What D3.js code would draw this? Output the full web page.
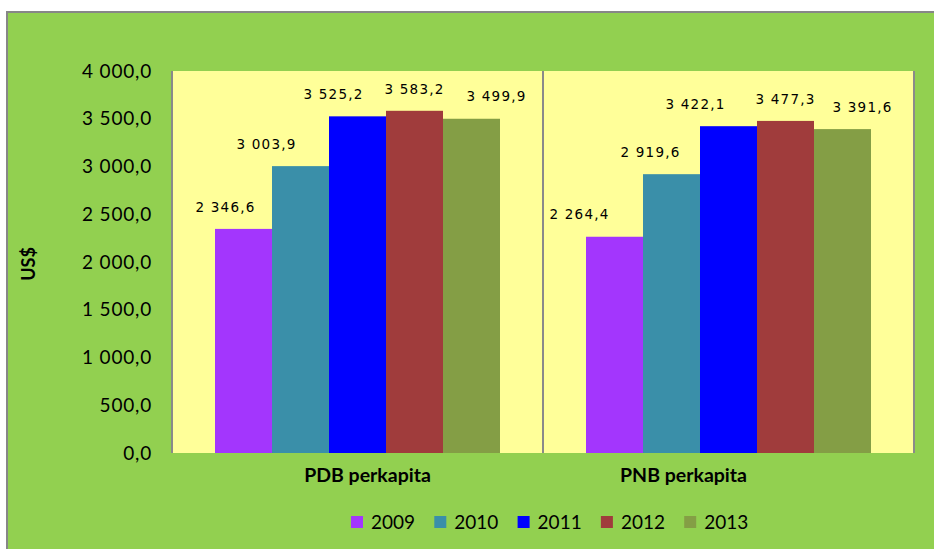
<!DOCTYPE html>
<html>
<head>
    <style>
        body { margin: 0; background: #fff; }
        svg text { font-family: Lato, "Open Sans", sans-serif; fill: #000; }
        .tick-label { font-size: 19px; letter-spacing: 0.8px; }
        .bar-label { font-family: "DejaVu Sans", sans-serif; font-size: 13.5px; letter-spacing: 1.2px; }
        .cat-label { font-size: 19.5px; font-weight: bold; }
        .legend text { font-size: 19px; }
    </style>
    <script src="https://d3js.org/d3.v7.min.js"></script>
</head>
<body>
    <svg width="934" height="549"></svg>
    <script>

        var categories = ["PDB perkapita", "PNB perkapita"];
        var years = ["2009", "2010", "2011", "2012", "2013"];
        var pdb = [2346.6, 3003.9, 3525.2, 3583.2, 3499.9];
        var pnb = [2264.4, 2919.6, 3422.1, 3477.3, 3391.6];
        var yTicks = [0, 500, 1000, 1500, 2000, 2500, 3000, 3500, 4000];

        var colors = ["#a336fd", "#3a8fa9", "#0000ff", "#a03c3c", "#849e45"];
        // labels were nudged by hand in the original
        var labelDx = [[-18, -34, -24, 0, 25], [-35, -21, -33, 0, 20]];
        var catDx = [10, -45];

        var svg = d3.select("svg");

        var plotLeft = 172, plotRight = 914, plotTop = 71, plotBottom = 453;

        svg.append("rect")
           .attr("x", 7).attr("y", 12)
           .attr("width", 940).attr("height", 550)
           .attr("fill", "#92d050")
           .attr("stroke", "#878787")
           .attr("stroke-width", 2);

        svg.append("rect")
           .attr("x", plotLeft).attr("y", plotTop)
           .attr("width", plotRight - plotLeft).attr("height", plotBottom - plotTop)
           .attr("fill", "#ffff99");

        var x0 = d3.scaleBand().domain(categories).range([plotLeft, plotRight]);
        var x1 = d3.scaleBand().domain(years).range([43, x0.bandwidth() - 43]);
        var y = d3.scaleLinear().domain([0, 4000]).range([plotBottom, plotTop]);

        var fmt = function(v) {
            return d3.format(",.1f")(v).replace(".", "#").replace(/,/g, " ").replace("#", ",");
        };

        // vertical separators at category edges
        svg.selectAll(".sep")
           .data([plotLeft, plotLeft + x0.bandwidth(), plotRight])
           .enter().append("line")
           .attr("x1", function(d) { return d; })
           .attr("x2", function(d) { return d; })
           .attr("y1", plotTop).attr("y2", plotBottom)
           .attr("stroke", "#8a8a8a")
           .attr("stroke-width", 2);

        svg.append("g")
           .selectAll("text")
           .data(yTicks)
           .enter().append("text")
           .attr("class", "tick-label")
           .attr("x", 152)
           .attr("y", function(d) { return y(d); })
           .attr("dy", "0.35em")
           .attr("text-anchor", "end")
           .text(fmt);

        var series = [pdb, pnb];
        var groups = svg.selectAll(".grp")
           .data(categories)
           .enter().append("g")
           .attr("class", "grp")
           .attr("transform", function(d) { return "translate(" + x0(d) + ",0)"; });

        groups.each(function(c, ci) {
            var g = d3.select(this);
            var vals = series[ci];
            g.selectAll("rect")
             .data(vals)
             .enter().append("rect")
             .attr("x", function(d, i) { return x1(years[i]); })
             .attr("y", function(d) { return y(d); })
             .attr("width", x1.bandwidth())
             .attr("height", function(d) { return y(0) - y(d); })
             .attr("fill", function(d, i) { return colors[i]; });

            g.selectAll("text")
             .data(vals)
             .enter().append("text")
             .attr("class", "bar-label")
             .attr("x", function(d, i) { return x1(years[i]) + x1.bandwidth() / 2 + labelDx[ci][i]; })
             .attr("y", function(d) { return y(d) - 22; })
             .attr("dy", "0.35em")
             .attr("text-anchor", "middle")
             .text(fmt);

            g.append("text")
             .attr("class", "cat-label")
             .attr("x", x0.bandwidth() / 2 + catDx[ci])
             .attr("y", 475)
             .attr("dy", "0.35em")
             .attr("text-anchor", "middle")
             .text(c);
        });

        svg.append("text")
           .attr("class", "cat-label")
           .attr("transform", "translate(29,264) rotate(-90)")
           .attr("dy", "0.35em")
           .attr("text-anchor", "middle")
           .style("font-size", "18px")
           .text("US$");

        var legend = svg.append("g")
           .attr("class", "legend")
           .selectAll("g")
           .data(years)
           .enter().append("g")
           .attr("transform", function(d, i) { return "translate(" + (350 + i * 83.3) + ",522)"; });

        legend.append("rect")
           .attr("x", 1).attr("y", -6)
           .attr("width", 12).attr("height", 12)
           .attr("fill", function(d, i) { return colors[i]; });

        legend.append("text")
           .attr("x", 21)
           .attr("dy", "0.35em")
           .text(function(d) { return d; });

    </script>
</body>
</html>
